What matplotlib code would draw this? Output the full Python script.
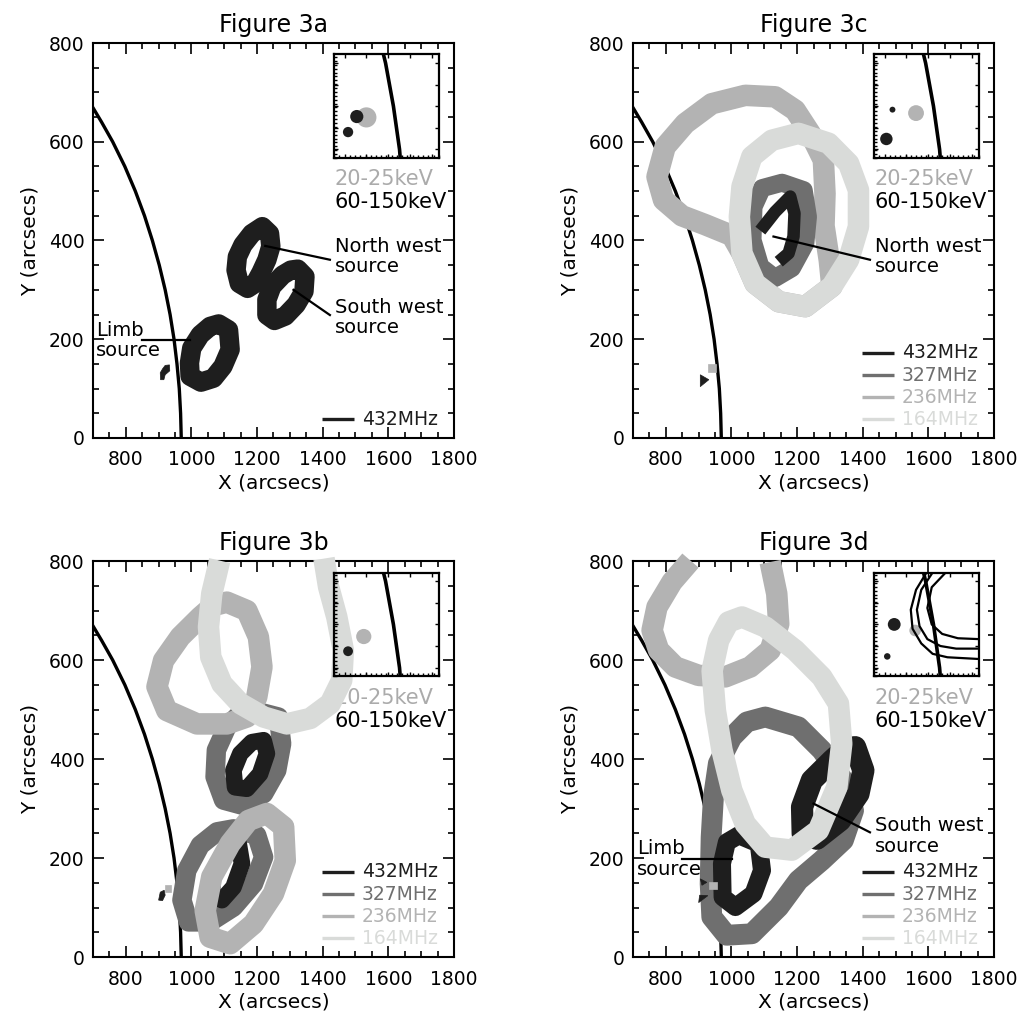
import matplotlib
matplotlib.use("Agg")
import matplotlib.pyplot as plt
from matplotlib.patches import Polygon
from matplotlib.ticker import MultipleLocator

# colours of the radio frequencies
C432 = "#1e1e1e"
C327 = "#6f6f6f"
C236 = "#b3b3b3"
C164 = "#d9dbd9"
C_KEV = "#ababab"

freq_labels = ["432MHz", "327MHz", "236MHz", "164MHz"]
freq_colors = [C432, C327, C236, C164]

x_ticks = [800, 1000, 1200, 1400, 1600, 1800]
y_ticks = [0, 200, 400, 600, 800]

# solar limb (arcsecs)
limb_x = [969, 967, 963, 956, 947, 935, 920, 902, 881, 857, 829, 797, 760, 726, 699]
limb_y = [0, 50, 100, 150, 200, 250, 300, 350, 400, 450, 500, 550, 600, 640, 670]

# ---- Figure 3a : 432 MHz ----
a_432_nw = [(1216, 428), (1238, 414), (1242, 388), (1230, 361), (1212, 335), (1194, 313),
            (1171, 303), (1146, 313), (1136, 340), (1140, 367), (1157, 391), (1184, 414)]
a_432_sw = [(1324, 342), (1346, 327), (1343, 297), (1319, 270), (1286, 247), (1253, 238),
            (1230, 249), (1230, 280), (1245, 307), (1278, 330), (1303, 340)]
a_432_limb = [(1083, 231), (1113, 219), (1118, 179), (1096, 145), (1067, 121), (1029, 113),
              (996, 125), (994, 152), (1001, 182), (1027, 209), (1057, 226)]
a_src = [(906, 118), (916, 118), (920, 128), (934, 136), (933, 148), (920, 147), (912, 140),
         (905, 132)]

# ---- Figure 3c ----
c_236 = [(773, 529), (798, 590), (859, 637), (940, 677), (1042, 694), (1133, 691), (1194, 664),
         (1240, 617), (1280, 563), (1285, 495), (1282, 430), (1298, 360), (1306, 307),
         (1225, 266), (1144, 276), (1072, 313), (1032, 374), (1001, 410), (920, 432),
         (849, 450), (793, 482)]
c_327 = [(1154, 517), (1220, 502), (1233, 448), (1225, 394), (1184, 344), (1133, 324),
         (1088, 347), (1064, 401), (1067, 468), (1093, 506)]
c_432 = [(1088, 420), (1133, 458), (1179, 489), (1192, 455), (1189, 408), (1174, 374), (1144, 357)]
c_164 = [(1204, 617), (1296, 597), (1357, 556), (1387, 502), (1387, 428), (1357, 361),
         (1306, 307), (1225, 266), (1144, 276), (1072, 313), (1032, 374), (1024, 448),
         (1032, 509), (1062, 570), (1123, 603)]
c_src_black = [(905, 104), (931, 118), (905, 128)]
c_src_gray = [(928, 133), (953, 133), (953, 150), (928, 150)]

# ---- Figure 3b ----
b_164 = [(1086, 801), (1062, 734), (1052, 667), (1059, 606), (1093, 552), (1149, 512),
         (1220, 485), (1291, 471), (1362, 482), (1423, 512), (1458, 559), (1463, 620),
         (1443, 687), (1418, 748), (1404, 805)]
b_236_top = [(1108, 717), (1169, 700), (1204, 647), (1215, 586), (1199, 525), (1169, 485),
             (1108, 471), (1017, 471), (925, 498), (895, 546), (915, 599), (966, 647),
             (1027, 687), (1067, 710)]
b_327_top = [(1189, 498), (1265, 485), (1275, 431), (1260, 377), (1220, 330), (1159, 306),
             (1098, 317), (1072, 364), (1076, 418), (1108, 465), (1149, 492)]
b_432_top = [(1220, 438), (1230, 411), (1209, 370), (1169, 340), (1133, 343), (1128, 377),
             (1149, 411), (1184, 434)]
b_327_low = [(1128, 259), (1199, 246), (1220, 202), (1189, 148), (1128, 101), (1057, 71),
             (991, 71), (971, 115), (986, 175), (1027, 226), (1078, 253)]
b_432_low = [(1144, 229), (1154, 189), (1128, 141), (1093, 115), (1062, 128), (1067, 175),
             (1103, 216)]
b_236_low = [(1230, 290), (1281, 263), (1286, 195), (1250, 128), (1189, 67), (1118, 27),
             (1057, 40), (1042, 94), (1062, 162), (1118, 229), (1174, 276)]
b_src_black = [(900, 115), (912, 114), (920, 125), (917, 135), (905, 131)]
b_src_gray = [(920, 131), (937, 131), (937, 145), (920, 145)]

# ---- Figure 3d ----
d_236 = [(875, 801), (819, 758), (773, 707), (758, 660), (778, 620), (829, 586), (900, 569),
         (981, 566), (1057, 586), (1118, 620), (1144, 673), (1138, 734), (1118, 798)]
d_164 = [(1032, 687), (1103, 667), (1194, 620), (1275, 566), (1326, 512), (1336, 431),
         (1321, 343), (1265, 256), (1184, 216), (1103, 222), (1042, 269), (1001, 337),
         (971, 418), (951, 498), (941, 579), (961, 640), (991, 677)]
d_327 = [(1103, 485), (1204, 465), (1275, 418), (1341, 357), (1372, 296), (1341, 236),
         (1275, 195), (1204, 155), (1144, 101), (1062, 47), (985, 44), (940, 81), (935, 148),
         (938, 242), (945, 323), (960, 391), (1001, 444), (1047, 475)]
d_432_limb = [(1022, 246), (1083, 229), (1093, 175), (1067, 128), (1012, 101), (973, 121),
              (971, 189), (986, 232)]
d_432_sw = [(1377, 424), (1402, 377), (1387, 330), (1331, 276), (1260, 239), (1217, 249),
            (1215, 303), (1245, 357), (1306, 397), (1346, 421)]
d_src_black1 = [(905, 158), (925, 151), (910, 145)]
d_src_black2 = [(900, 110), (928, 124), (903, 125)]
d_src_gray = [(930, 138), (956, 138), (956, 152), (930, 152)]

# inset (zoom on the limb source) contents
a_in_x, a_in_y, a_in_c, a_in_s = [925, 914, 904], [137, 138, 120], [C236, C432, C432], [210, 90, 55]
b_in_x, b_in_y, b_in_c, b_in_s = [922, 904], [136, 119], [C236, C432], [120, 50]
c_in_x, c_in_y, c_in_c, c_in_s = [936, 902, 909], [142, 112, 146], [C236, C432, C432], [130, 80, 18]
d_in_x, d_in_y, d_in_c, d_in_s = [935, 911, 903], [143, 150, 113], [C236, C432, C432], [70, 85, 22]
d_in_line1 = [(948, 210), (936, 190), (930, 167), (932, 145), (942, 128), (955, 116), (972, 112), (1008, 110)]
d_in_line2 = [(955, 210), (942, 190), (937, 167), (940, 148), (949, 133), (964, 125), (982, 122), (1008, 122)]
d_in_line3 = [(970, 210), (954, 193), (949, 169), (954, 150), (966, 139), (984, 134), (1008, 133)]


def ring(ax, pts, color, lw, z):
    ax.add_patch(Polygon(pts, closed=True, fill=False, ec=color, lw=lw,
                         joinstyle="round", zorder=z, clip_on=False))


def arc(ax, pts, color, lw, z, clip=False):
    xs, ys = zip(*pts)
    ax.plot(xs, ys, color=color, lw=lw, solid_joinstyle="round",
            solid_capstyle="butt", zorder=z, clip_on=clip)


def blob(ax, pts, color):
    ax.add_patch(Polygon(pts, closed=True, fc=color, ec=color, lw=0.5, zorder=7))


def setup(ax, title):
    ax.set_xlim(700, 1800)
    ax.set_ylim(0, 800)
    ax.set_xticks(x_ticks)
    ax.set_yticks(y_ticks)
    ax.xaxis.set_minor_locator(MultipleLocator(50))
    ax.yaxis.set_minor_locator(MultipleLocator(50))
    ax.tick_params(which="both", direction="in", top=True, right=True, width=1.2, labelsize=13.5)
    ax.tick_params(which="major", length=8)
    ax.tick_params(which="minor", length=4)
    ax.tick_params(axis="x", pad=9)
    ax.tick_params(axis="y", pad=6)
    for s in ax.spines.values():
        s.set_linewidth(1.5)
    ax.set_xlabel("X (arcsecs)", fontsize=14.5, labelpad=3)
    ax.set_ylabel("Y (arcsecs)", fontsize=14.5, labelpad=7)
    ax.set_title(title, fontsize=17, pad=8)
    ax.plot(limb_x, limb_y, color="k", lw=2.4, zorder=1)
    ax.text(0.670, 0.655, "20-25keV", color=C_KEV, fontsize=15, va="center", transform=ax.transAxes)
    ax.text(0.670, 0.597, "60-150keV", color="k", fontsize=15, va="center", transform=ax.transAxes)


def add_inset(ax, xs, ys, cs, ss):
    ins = ax.inset_axes([0.668, 0.709, 0.29, 0.262])
    ins.set_zorder(10)
    ins.set_xlim(888, 1008)
    ins.set_ylim(90, 210)
    ins.patch.set_visible(False)
    ins.plot(limb_x, limb_y, color="k", lw=2.6)
    ins.scatter(xs, ys, c=cs, s=ss, linewidths=0, zorder=3)
    ins.xaxis.set_major_locator(MultipleLocator(25))
    ins.yaxis.set_major_locator(MultipleLocator(25))
    ins.xaxis.set_minor_locator(MultipleLocator(6))
    ins.yaxis.set_minor_locator(MultipleLocator(4.5))
    ins.tick_params(which="major", direction="in", top=True, right=True, length=3, width=1,
                    labelbottom=False, labelleft=False)
    ins.tick_params(which="minor", direction="in", top=False, right=False, length=2, width=1)
    for s in ins.spines.values():
        s.set_linewidth(1.6)
    return ins


def legend(ax, n):
    ys = [0.216, 0.159, 0.103, 0.047]
    if n == 1:
        ys = [0.047]
    for i in range(n):
        ax.plot([0.634, 0.722], [ys[i], ys[i]], color=freq_colors[i], lw=2.4,
                transform=ax.transAxes, zorder=9, solid_capstyle="butt")
        ax.text(0.745, ys[i], freq_labels[i], color=freq_colors[i], fontsize=13.5,
                va="center", transform=ax.transAxes, zorder=9)


def pointer(ax, x0, y0, x1, y1):
    ax.plot([x0, x1], [y0, y1], color="k", lw=1.6, zorder=8)


def label(ax, x, y, s):
    ax.text(x, y, s, fontsize=14, va="center", ha="left", linespacing=1.1, zorder=9)


fig = plt.figure(figsize=(10.24, 10.19), dpi=100)
ax_a = fig.add_axes([0.0908, 0.5702, 0.3525, 0.3876])
ax_c = fig.add_axes([0.6182, 0.5702, 0.3525, 0.3876])
ax_b = fig.add_axes([0.0908, 0.0608, 0.3525, 0.3886])
ax_d = fig.add_axes([0.6182, 0.0608, 0.3525, 0.3886])

# Figure 3a
setup(ax_a, "Figure 3a")
for pts in [a_432_nw, a_432_sw, a_432_limb]:
    ring(ax_a, pts, C432, 14, 4)
blob(ax_a, a_src, C432)
add_inset(ax_a, a_in_x, a_in_y, a_in_c, a_in_s)
legend(ax_a, 1)
pointer(ax_a, 1225, 389, 1422, 361)
pointer(ax_a, 1311, 300, 1422, 249)
pointer(ax_a, 849, 199, 996, 199)
label(ax_a, 1437, 368, "North west\nsource")
label(ax_a, 1437, 244, "South west\nsource")
label(ax_a, 709, 197, "Limb\nsource")

# Figure 3c
setup(ax_c, "Figure 3c")
ring(ax_c, c_236, C236, 15.5, 2)
ring(ax_c, c_327, C327, 13, 3)
arc(ax_c, c_432, C432, 9, 4, clip=True)
ring(ax_c, c_164, C164, 15.5, 6)
blob(ax_c, c_src_black, C432)
blob(ax_c, c_src_gray, C236)
add_inset(ax_c, c_in_x, c_in_y, c_in_c, c_in_s)
legend(ax_c, 4)
pointer(ax_c, 1128, 408, 1422, 361)
label(ax_c, 1438, 368, "North west\nsource")

# Figure 3b
setup(ax_b, "Figure 3b")
ring(ax_b, b_327_top, C327, 14, 2)
ring(ax_b, b_327_low, C327, 14, 2)
ring(ax_b, b_432_top, C432, 12, 3)
ring(ax_b, b_432_low, C432, 12, 3)
ring(ax_b, b_236_top, C236, 15.5, 4)
ring(ax_b, b_236_low, C236, 15.5, 4)
arc(ax_b, b_164, C164, 15.5, 5)
blob(ax_b, b_src_black, C432)
blob(ax_b, b_src_gray, C236)
add_inset(ax_b, b_in_x, b_in_y, b_in_c, b_in_s)
legend(ax_b, 4)

# Figure 3d
setup(ax_d, "Figure 3d")
ring(ax_d, d_327, C327, 15, 2)
ring(ax_d, d_432_limb, C432, 13, 3)
ring(ax_d, d_432_sw, C432, 16, 3)
arc(ax_d, d_236, C236, 15.5, 4)
ring(ax_d, d_164, C164, 15.5, 5)
blob(ax_d, d_src_black1, C432)
blob(ax_d, d_src_black2, C432)
blob(ax_d, d_src_gray, C236)
ins_d = add_inset(ax_d, d_in_x, d_in_y, d_in_c, d_in_s)
for pts in [d_in_line1, d_in_line2, d_in_line3]:
    arc(ins_d, pts, "k", 1.6, 4, clip=True)
legend(ax_d, 4)
pointer(ax_d, 1250, 310, 1422, 252)
pointer(ax_d, 849, 199, 1001, 199)
label(ax_d, 1438, 245, "South west\nsource")
label(ax_d, 712, 198, "Limb\nsource")

fig.savefig("out.png", dpi=100)
